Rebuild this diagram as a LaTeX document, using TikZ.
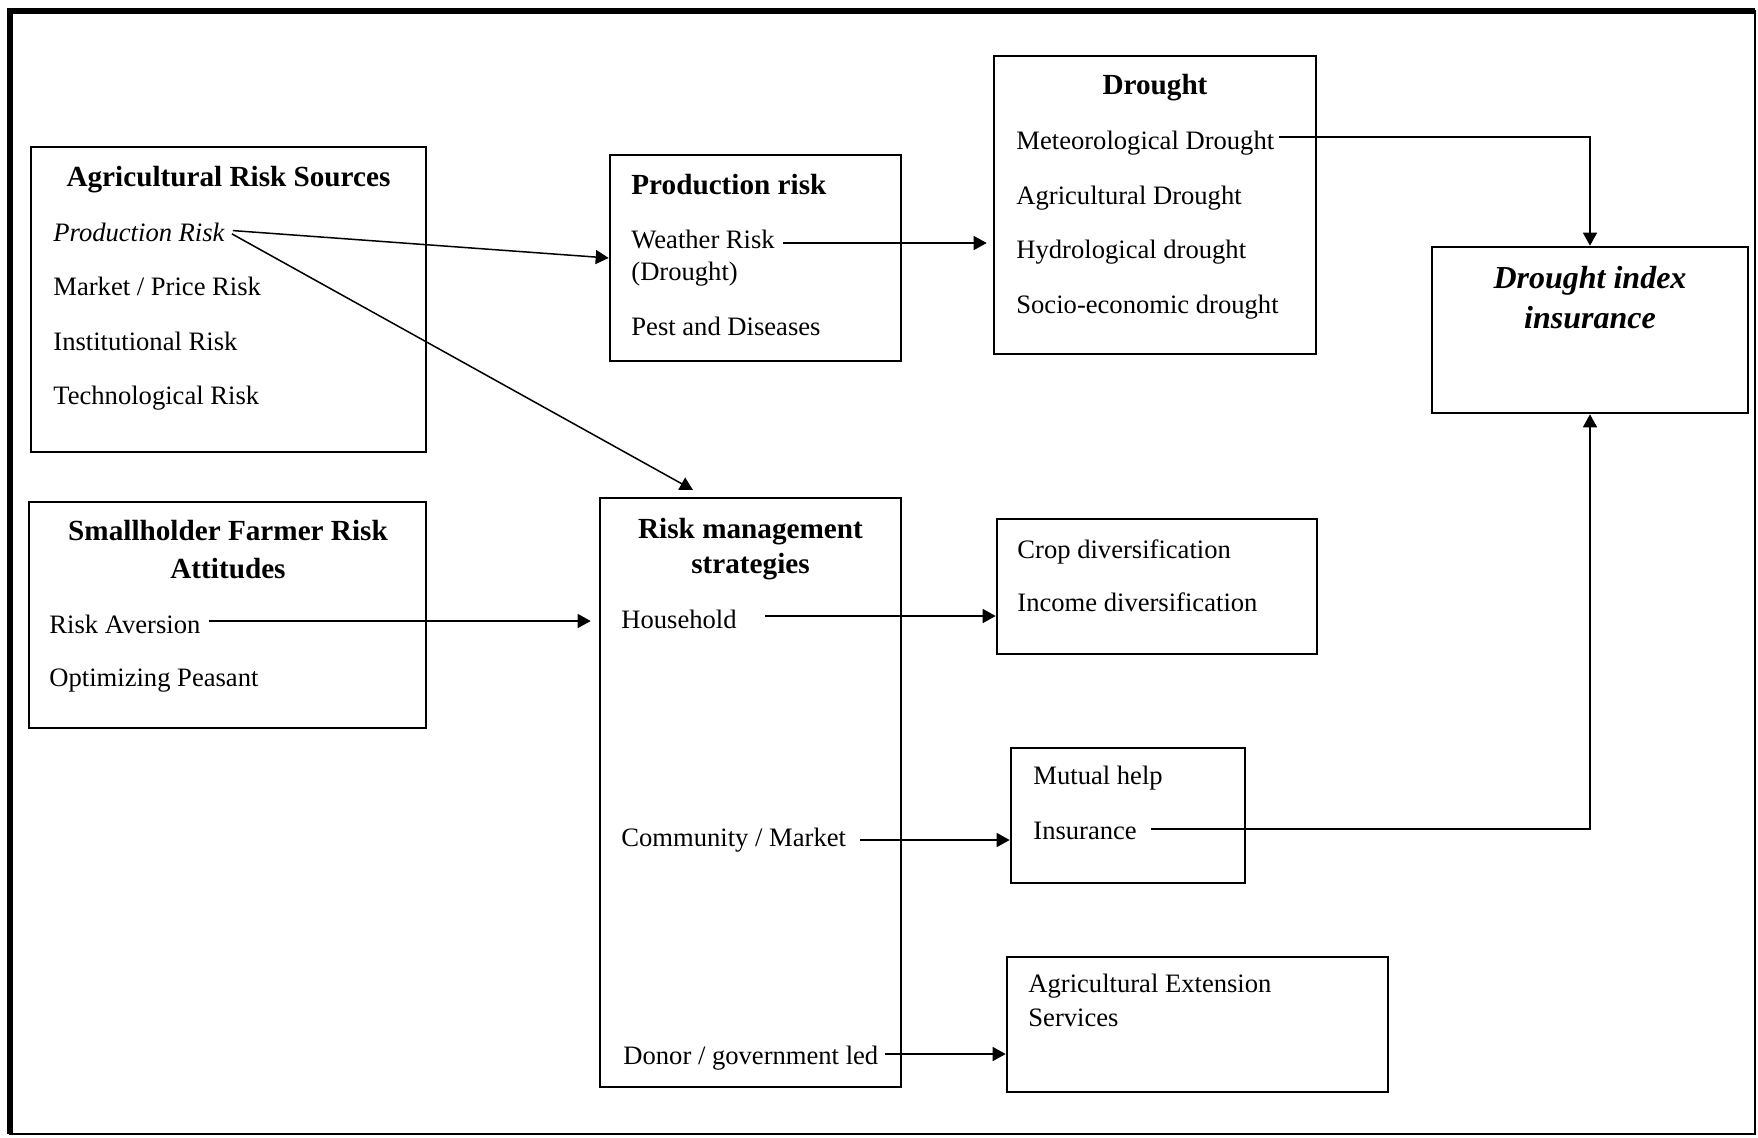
\documentclass[tikz,border=0pt]{standalone}
\usepackage{fontspec}
\setmainfont{Liberation Serif}
\usetikzlibrary{arrows.meta,fit}

\tikzset{
  box/.style={draw, line width=1.3pt, inner sep=0pt},
  item/.style={anchor=base west, inner sep=0pt, text height=8pt, text depth=0pt,
    font=\fontsize{13.3}{16}\selectfont},
  head/.style={anchor=base, inner sep=0pt, font=\fontsize{14.6}{18}\selectfont\bfseries},
  headl/.style={head, anchor=base west},
  bighead/.style={anchor=base, inner sep=0pt, font=\fontsize{16}{20}\selectfont\bfseries\itshape},
  link/.style={-{Triangle[length=6.5pt,width=7pt]}, line width=0.75pt, shorten <=4pt},
}

\begin{document}
\begin{tikzpicture}[x=0.5pt, y=-0.5pt]
  \useasboundingbox (0,0) rectangle (1758,1137);

  % outer frame
  \draw[line width=1.2pt] (10,11) rectangle (1755,1134);
  \draw[line width=3pt] (10,1134) -- (10,11) -- (1755,11);

  % boxes
  \node[box, fit={(31,147) (426,452)}] (ars) {};
  \node[box, fit={(610,155) (901,361)}] (prod) {};
  \node[box, fit={(994,56) (1316,354)}] (drt) {};
  \node[box, fit={(1432,247) (1748,413)}] (dii) {};
  \node[box, fit={(29,502) (426,728)}] (sha) {};
  \node[box, fit={(600,498) (901,1087)}] (rms) {};
  \node[box, fit={(997,519) (1317,654)}] (div) {};
  \node[box, fit={(1011,748) (1245,883)}] (mut) {};
  \node[box, fit={(1007,957) (1388,1092)}] (ext) {};

  % agricultural risk sources
  \node[head] (arshead) at (228.5,186) {Agricultural Risk Sources};
  \node[item, text height=11pt] (prk) at (53,241) {\itshape Production Risk};
  \node[item] (mkt) at (53,295) {Market / Price Risk};
  \node[item] (ins1) at (53,350) {Institutional Risk};
  \node[item] (tec) at (53,404) {Technological Risk};

  % production risk
  \node[headl] (prodhead) at (631,194) {Production risk};
  \node[item, text height=5pt] (wth) at (631,248) {Weather Risk};
  \node[item] (wth2) at (631,280) {(Drought)};
  \node[item] (pst) at (631,335) {Pest and Diseases};

  % drought
  \node[head] (drthead) at (1155,94) {Drought};
  \node[item, text height=12pt] (met) at (1016,149) {Meteorological Drought};
  \node[item] (agr) at (1016,204) {Agricultural Drought};
  \node[item] (hyd) at (1016,258) {Hydrological drought};
  \node[item] (soc) at (1016,313) {Socio-economic drought};

  % drought index insurance
  \node[bighead] (diihead) at (1590,288) {Drought index};
  \node[bighead] (diihead2) at (1590,328) {insurance};

  % smallholder attitudes
  \node[head] (shahead) at (228,540) {Smallholder Farmer Risk};
  \node[head] (shahead2) at (228,578) {Attitudes};
  \node[item, text height=12pt] (avr) at (49,633) {Risk Aversion};
  \node[item] (opt) at (49,686) {Optimizing Peasant};

  % risk management strategies
  \node[head] (rmshead) at (750.5,538) {Risk management};
  \node[head] (rmshead2) at (750.5,573) {strategies};
  \node[item, text height=12pt] (hh) at (621,628) {Household};
  \node[item, text height=6pt] (cm) at (621,846) {Community / Market};
  \node[item, text height=10pt] (dgl) at (623,1064) {Donor / government led};

  % outcomes
  \node[item] (crp) at (1017,558) {Crop diversification};
  \node[item] (inc) at (1017,611) {Income diversification};
  \node[item] (mh) at (1033,784) {Mutual help};
  \node[item, text height=10pt] (ins) at (1033,839) {Insurance};
  \node[item] (aes) at (1028,992) {Agricultural Extension};
  \node[item] (aes2) at (1028,1026) {Services};

  \coordinate (rmstop) at (693,490);

  % links
  \draw[link] (prk.east) -- (prod.west);
  \draw[link] (prk.east) -- (rmstop);
  \draw[link, shorten >=3pt] (wth.east) -- (wth.east -| drt.west);
  \draw[link, shorten <=2pt] (met.east) -| (dii.north);
  \draw[link, shorten >=4pt] (avr.east) -- (avr.east -| rms.west);
  \draw[link, shorten <=14pt] (hh.east) -- (hh.east -| div.west);
  \draw[link, shorten <=7pt] (cm.east) -- (cm.east -| mut.west);
  \draw[link, shorten <=3pt] (dgl.east) -- (dgl.east -| ext.west);
  \draw[link, shorten <=7pt] (ins.east) -| (dii.south);
\end{tikzpicture}
\end{document}
